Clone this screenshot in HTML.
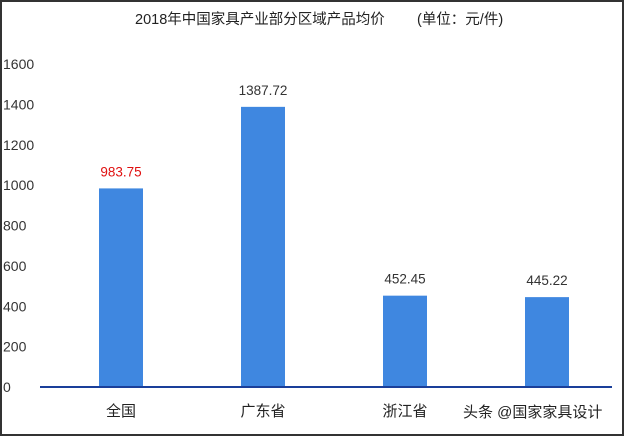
<!DOCTYPE html>
<html><head><meta charset="utf-8"><style>
body{margin:0;background:#fff}
svg{display:block;font-family:"Liberation Sans","Noto Sans CJK SC",sans-serif}
</style></head><body>
<svg width="626" height="437">
<rect x="1" y="1" width="622" height="434" fill="#fff" stroke="#333" stroke-width="2"/>
<text x="135" y="24" font-size="14.5" fill="#222" style="white-space:pre">2018年中国家具产业部分区域产品均价        (单位：元/件)</text>
<g id="yaxis"></g><g id="bars"></g>
<text x="463" y="417" font-size="15" fill="#222">头条 @国家家具设计</text>
</svg>
<script>
const categories=["全国","广东省","浙江省",""];
const values=[983.75,1387.72,452.45,445.22];
const labels=["983.75","1387.72","452.45","445.22"];
const ticks=[0,200,400,600,800,1000,1200,1400,1600];
const NS="http://www.w3.org/2000/svg";
const y0=387,y1=64,vmax=1600;
const y=v=>y0-(v/vmax)*(y0-y1);
const x=i=>121+i*142;
const yaxis=document.getElementById('yaxis'),bars=document.getElementById('bars');
function mk(t,a,p,txt){const e=document.createElementNS(NS,t);for(const k in a)e.setAttribute(k,a[k]);if(txt!==undefined)e.textContent=txt;p.appendChild(e);return e;}
ticks.forEach(t=>{
 const e=mk('text',{x:3,y:y(t)+5,'font-size':14,fill:'#333'},yaxis,String(t));
 
 
});
values.forEach((v,i)=>{
 const r=mk('rect',{x:x(i)-22,y:y(v),width:44,height:y0-y(v),fill:'#3f87e0'},bars);
 
 
 const l=mk('text',{x:x(i),y:y(v)-12,'font-size':13.5,'text-anchor':'middle',fill:i===0?'#e01010':'#333'},bars,labels[i]);
 
 
 if(categories[i]){
 const c=mk('text',{x:x(i),y:416,'font-size':15,'text-anchor':'middle',fill:'#222'},bars,categories[i]);
 
 
 }
});
const b=mk('line',{x1:40,x2:612,y1:y0,y2:y0,stroke:'#1a3f9a','stroke-width':2},bars);


</script>
</body></html>
